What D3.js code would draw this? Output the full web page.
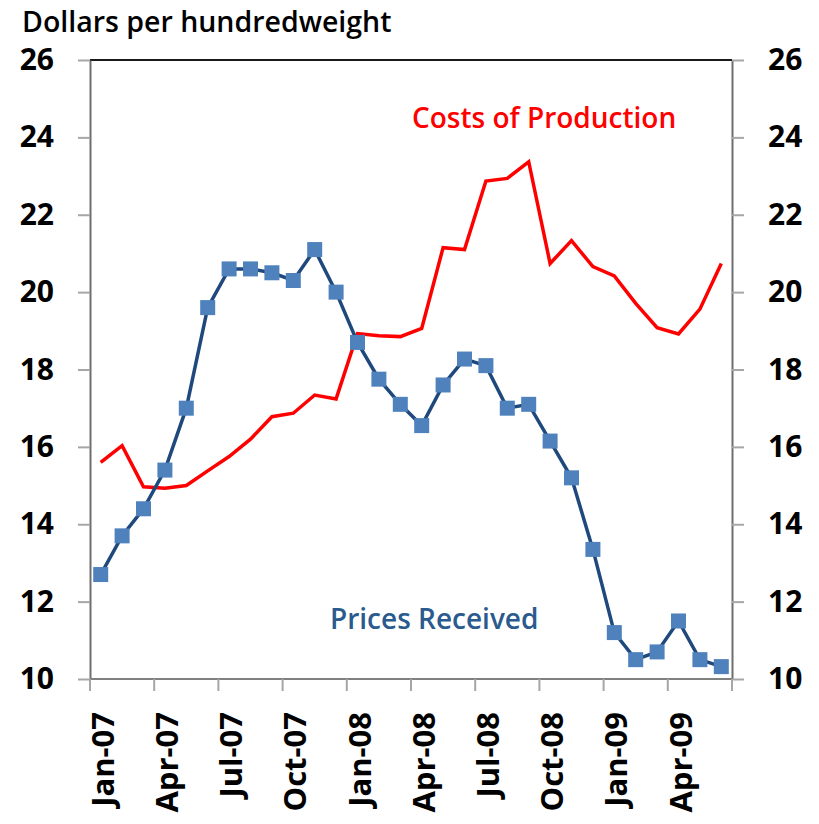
<!DOCTYPE html>
<html>
<head>
<meta charset="utf-8">
<script src="https://cdn.jsdelivr.net/npm/d3@7"></script>
<style>
  body { margin: 0; background: #fff; }
  #chart { width: 819px; height: 824px; }
  text { font-family: "Open Sans", "DejaVu Sans", sans-serif; }
</style>
</head>
<body>
<div id="chart"></div>
<script>
var months = ["Jan-07","Feb-07","Mar-07","Apr-07","May-07","Jun-07","Jul-07","Aug-07","Sep-07","Oct-07","Nov-07","Dec-07",
              "Jan-08","Feb-08","Mar-08","Apr-08","May-08","Jun-08","Jul-08","Aug-08","Sep-08","Oct-08","Nov-08","Dec-08",
              "Jan-09","Feb-09","Mar-09","Apr-09","May-09","Jun-09"];

var pricesReceived = [12.7, 13.7, 14.4, 15.4, 17.0, 19.6, 20.6, 20.6, 20.5, 20.3, 21.1, 20.0,
                      18.7, 17.75, 17.1, 16.55, 17.6, 18.27, 18.1, 17.0, 17.1, 16.15, 15.2, 13.35,
                      11.2, 10.5, 10.7, 11.5, 10.5, 10.32];

var costsProduction = [15.6, 16.03, 14.97, 14.93, 15.0, 15.38, 15.75, 16.2, 16.78, 16.87, 17.34, 17.24,
                       18.93, 18.87, 18.85, 19.06, 21.15, 21.1, 22.87, 22.94, 23.37, 20.74, 21.33, 20.66,
                       20.42, 19.71, 19.08, 18.92, 19.56, 20.74];

var yTicks = [10, 12, 14, 16, 18, 20, 22, 24, 26];

var width = 819, height = 824;
var margin = {left: 90, right: 732, top: 60, bottom: 679};

var svg = d3.select("#chart")
    .append("svg")
    .attr("width", width)
    .attr("height", height);

var x = d3.scaleBand()
    .domain(months)
    .range([margin.left, margin.right])
    .padding(0);

var y = d3.scaleLinear()
    .domain([10, 26])
    .range([margin.bottom, margin.top]);

// top border of the plot area
svg.append("line")
    .attr("x1", margin.left).attr("x2", margin.right)
    .attr("y1", margin.top).attr("y2", margin.top)
    .attr("stroke", "#1a1a1a")
    .attr("stroke-width", 2);

// left axis
var yLeft = svg.append("g")
    .attr("transform", "translate(" + margin.left + ",0)")
    .call(d3.axisLeft(y).tickValues(yTicks).tickSize(12).tickSizeOuter(0).tickPadding(24));

// right axis
var yRight = svg.append("g")
    .attr("transform", "translate(" + margin.right + ",0)")
    .call(d3.axisRight(y).tickValues(yTicks).tickSize(12).tickSizeOuter(0).tickPadding(24));

[yLeft, yRight].forEach(function(g) {
    g.select(".domain").attr("stroke", "#6e6e6e").attr("stroke-width", 2);
    g.selectAll(".tick line").attr("stroke", "#a6a6a6").attr("stroke-width", 2);
    g.selectAll(".tick text")
        .attr("fill", "#000")
        .attr("font-size", "30px")
        .attr("font-weight", "bold")
        .style("font-family", "'Open Sans', sans-serif");
});

// bottom axis
svg.append("line")
    .attr("x1", margin.left).attr("x2", margin.right)
    .attr("y1", margin.bottom).attr("y2", margin.bottom)
    .attr("stroke", "#808080")
    .attr("stroke-width", 2);

var tickMonths = months.filter(function(d, i) { return i % 3 === 0; });

svg.selectAll(".xtick")
    .data(tickMonths.concat(["end"]))
    .enter().append("line")
    .attr("class", "xtick")
    .attr("x1", function(d) { return d === "end" ? margin.right : x(d); })
    .attr("x2", function(d) { return d === "end" ? margin.right : x(d); })
    .attr("y1", margin.bottom)
    .attr("y2", margin.bottom + 12)
    .attr("stroke", "#a6a6a6")
    .attr("stroke-width", 2);

svg.selectAll(".xlabel")
    .data(tickMonths)
    .enter().append("text")
    .attr("class", "xlabel")
    .attr("transform", function(d) {
        return "translate(" + (x(d) + x.bandwidth() / 2 + 13) + "," + (margin.bottom + 33) + ") rotate(-90)";
    })
    .attr("text-anchor", "end")
    .attr("font-size", "31px")
    .attr("font-weight", "bold")
    .attr("fill", "#000")
    .text(function(d) { return d; });

// one line generator for both series
var line = d3.line()
    .x(function(d, i) { return x(months[i]) + x.bandwidth() / 2; })
    .y(function(d) { return y(d); });

svg.append("path")
    .datum(costsProduction)
    .attr("fill", "none")
    .attr("stroke", "#ff0000")
    .attr("stroke-width", 3.5)
    .attr("d", line);

svg.append("path")
    .datum(pricesReceived)
    .attr("fill", "none")
    .attr("stroke", "#1f497d")
    .attr("stroke-width", 3.5)
    .attr("d", line);

var marker = 15;
svg.selectAll(".marker")
    .data(pricesReceived)
    .enter().append("rect")
    .attr("class", "marker")
    .attr("x", function(d, i) { return x(months[i]) + x.bandwidth() / 2 - marker / 2; })
    .attr("y", function(d) { return y(d) - marker / 2; })
    .attr("width", marker)
    .attr("height", marker)
    .attr("fill", "#4f81bd");

// labels
svg.append("text")
    .attr("x", 22)
    .attr("y", 32)
    .attr("font-size", "28.5px")
    .attr("font-weight", 600)
    .attr("fill", "#000")
    .text("Dollars per hundredweight");

svg.append("text")
    .attr("x", 412)
    .attr("y", 128)
    .attr("font-size", "28px")
    .attr("font-weight", 600)
    .attr("fill", "#ff0000")
    .text("Costs of Production");

svg.append("text")
    .attr("x", 330)
    .attr("y", 629)
    .attr("font-size", "28px")
    .attr("font-weight", 600)
    .attr("fill", "#2a5a8e")
    .text("Prices Received");
</script>
</body>
</html>
